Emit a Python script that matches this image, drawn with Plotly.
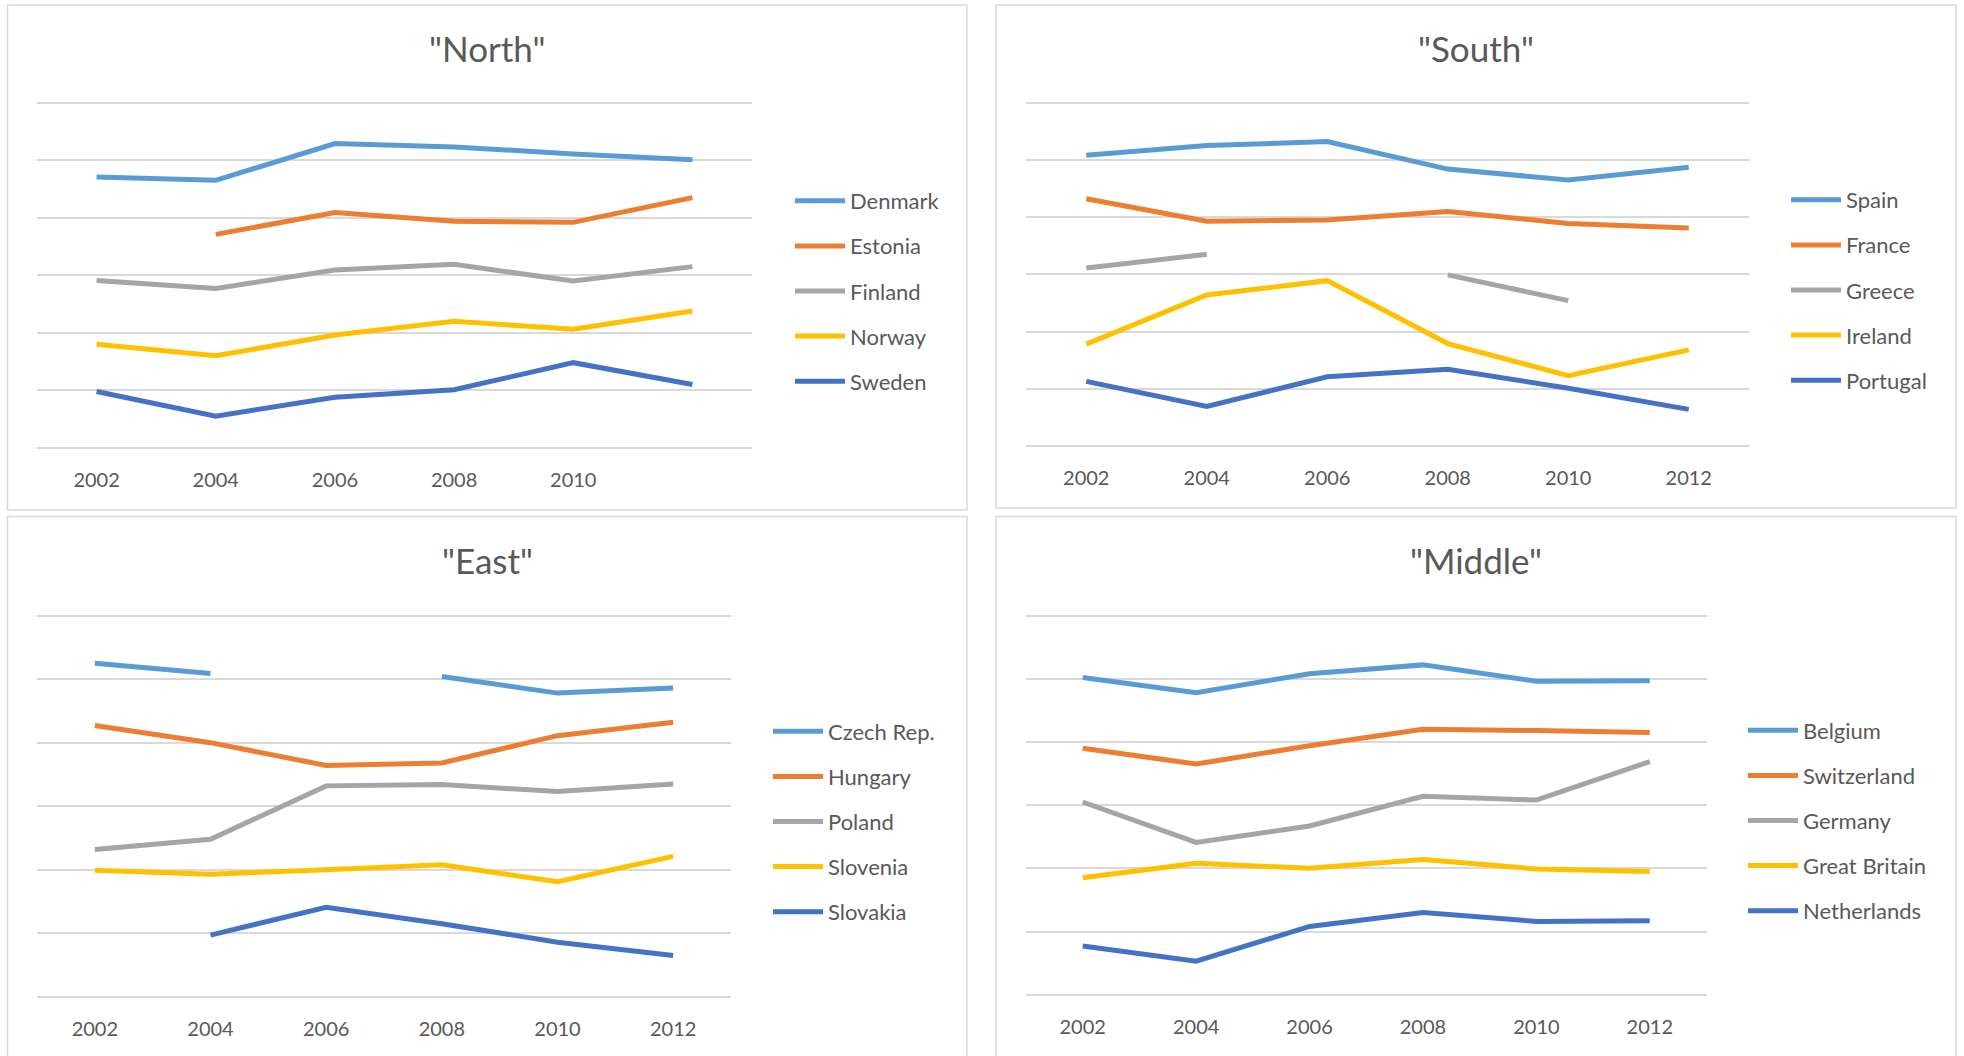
import plotly.graph_objects as go

W, H = 1964, 1056

# ---- data -------------------------------------------------------------
years = ["2002", "2004", "2006", "2008", "2010", "2012"]
north_ticks = ["2002", "2004", "2006", "2008", "2010", ""]

north_names = ["Denmark", "Estonia", "Finland", "Norway", "Sweden"]
denmark = [4.71, 4.65, 5.29, 5.23, 5.11, 5.01]
estonia = [None, 3.71, 4.09, 3.94, 3.92, 4.35]
finland = [2.91, 2.77, 3.09, 3.19, 2.90, 3.15]
norway = [1.80, 1.60, 1.96, 2.20, 2.06, 2.38]
sweden = [0.98, 0.55, 0.88, 1.01, 1.48, 1.10]

south_names = ["Spain", "France", "Greece", "Ireland", "Portugal"]
spain = [5.08, 5.25, 5.32, 4.84, 4.65, 4.87]
france = [4.32, 3.93, 3.95, 4.10, 3.89, 3.81]
greece = [3.11, 3.35, None, 2.99, 2.54, None]
ireland = [1.78, 2.64, 2.89, 1.79, 1.23, 1.68]
portugal = [1.13, 0.69, 1.21, 1.34, 1.01, 0.64]

east_names = ["Czech Rep.", "Hungary", "Poland", "Slovenia", "Slovakia"]
czech = [5.25, 5.09, None, 5.04, 4.78, 4.86]
hungary = [4.27, 4.00, 3.64, 3.68, 4.11, 4.32]
poland = [2.32, 2.48, 3.32, 3.34, 3.23, 3.35]
slovenia = [1.99, 1.93, 2.00, 2.08, 1.81, 2.21]
slovakia = [None, 0.97, 1.41, 1.15, 0.86, 0.65]

middle_names = ["Belgium", "Switzerland", "Germany", "Great Britain", "Netherlands"]
belgium = [5.02, 4.78, 5.08, 5.22, 4.96, 4.97]
switzerland = [3.90, 3.65, 3.94, 4.20, 4.18, 4.15]
germany = [3.05, 2.41, 2.67, 3.14, 3.08, 3.69]
great_britain = [1.85, 2.08, 2.00, 2.14, 1.99, 1.95]
netherlands = [0.77, 0.53, 1.08, 1.30, 1.16, 1.17]

# ---- styling ----------------------------------------------------------
colors = ["#5B9BD5", "#ED7D31", "#A5A5A5", "#FFC000", "#4472C4"]
text_color = "#595959"
grid_color = "#D9D9D9"
font_family = "Lato, 'Open Sans', sans-serif"

Y_MAX = 6
PAD = 0.03  # small range padding so the outer gridlines are drawn


def px_x(v):
    return v / W


def px_y(v):
    return 1 - v / H


# panel definitions: title, names, series, tick labels, plot box (px), legend (px), panel box (px)
panels = [
    dict(title='"North"', names=north_names,
         series=[denmark, estonia, finland, norway, sweden], ticks=north_ticks,
         plot=(37, 752, 102.7, 447.8), legend=(852, 291), box=(7.5, 967, 5, 510),
         title_pos=(487, 48)),
    dict(title='"South"', names=south_names,
         series=[spain, france, greece, ireland, portugal], ticks=years,
         plot=(1026, 1749, 102.7, 446), legend=(1848, 290), box=(996, 1956, 5, 508),
         title_pos=(1476, 48)),
    dict(title='"East"', names=east_names,
         series=[czech, hungary, poland, slovenia, slovakia], ticks=years,
         plot=(37, 731, 615.6, 996.8), legend=(830, 821.5), box=(7.5, 967, 516.5, 1070),
         title_pos=(487, 560)),
    dict(title='"Middle"', names=middle_names,
         series=[belgium, switzerland, germany, great_britain, netherlands], ticks=years,
         plot=(1026, 1706.5, 615.6, 994.7), legend=(1805, 820.5), box=(996, 1956, 516.5, 1070),
         title_pos=(1476, 560)),
]

fig = go.Figure()
layout = dict(
    width=W, height=H,
    margin=dict(l=0, r=0, t=0, b=0),
    paper_bgcolor="white", plot_bgcolor="white",
    font=dict(family=font_family, color=text_color),
    shapes=[], annotations=[],
)

for i, p in enumerate(panels):
    n = i + 1
    sfx = "" if n == 1 else str(n)
    xa, ya = "x" + sfx, "y" + sfx
    leg = "legend" + sfx

    for j, (name, vals) in enumerate(zip(p["names"], p["series"])):
        fig.add_trace(go.Scatter(
            x=list(range(len(years))), y=vals, name=name, mode="lines",
            line=dict(color=colors[j], width=5),
            xaxis=xa, yaxis=ya, legend=leg, legendgroup=f"{n}-{j}",
            hoverinfo="name+y",
        ))

    x0, x1, y0, y1 = p["plot"]
    unit = (y1 - y0) / Y_MAX
    layout["xaxis" + sfx] = dict(
        domain=[px_x(x0), px_x(x1)], anchor=ya,
        range=[-0.5, len(years) - 0.5],
        tickmode="array", tickvals=list(range(len(years))), ticktext=p["ticks"],
        ticks="outside", ticklen=14 - PAD * unit, tickcolor="rgba(0,0,0,0)",
        showgrid=False, zeroline=False, showline=False,
        tickfont=dict(family=font_family, size=20, color=text_color),
    )
    layout["yaxis" + sfx] = dict(
        domain=[px_y(y1 + PAD * unit), px_y(y0 - PAD * unit)], anchor=xa,
        range=[-PAD, Y_MAX + PAD], dtick=1, tick0=0,
        showgrid=True, gridcolor=grid_color, gridwidth=2,
        zeroline=False, showline=False, showticklabels=False, ticks="",
    )

    lx, ly = p["legend"]
    layout[leg] = dict(
        x=px_x(lx - 62), xanchor="left", y=px_y(ly), yanchor="middle",
        bgcolor="rgba(0,0,0,0)", borderwidth=0, itemwidth=50,
        font=dict(family=font_family, size=22, color=text_color),
        tracegroupgap=13.5, itemclick=False, itemdoubleclick=False,
    )

    bx0, bx1, by0, by1 = p["box"]
    layout["shapes"].append(dict(
        type="rect", xref="paper", yref="paper",
        x0=px_x(bx0), x1=px_x(bx1), y0=px_y(by1), y1=px_y(by0),
        line=dict(color=grid_color, width=1.5), fillcolor="rgba(0,0,0,0)", layer="below",
    ))

    tx, ty = p["title_pos"]
    layout["annotations"].append(dict(
        text=p["title"], xref="paper", yref="paper",
        x=px_x(tx), y=px_y(ty), xanchor="center", yanchor="middle",
        showarrow=False, font=dict(family=font_family, size=35, color=text_color),
    ))

fig.update_layout(**layout)
fig.update_layout(showlegend=True)

fig.write_html("out.html")
